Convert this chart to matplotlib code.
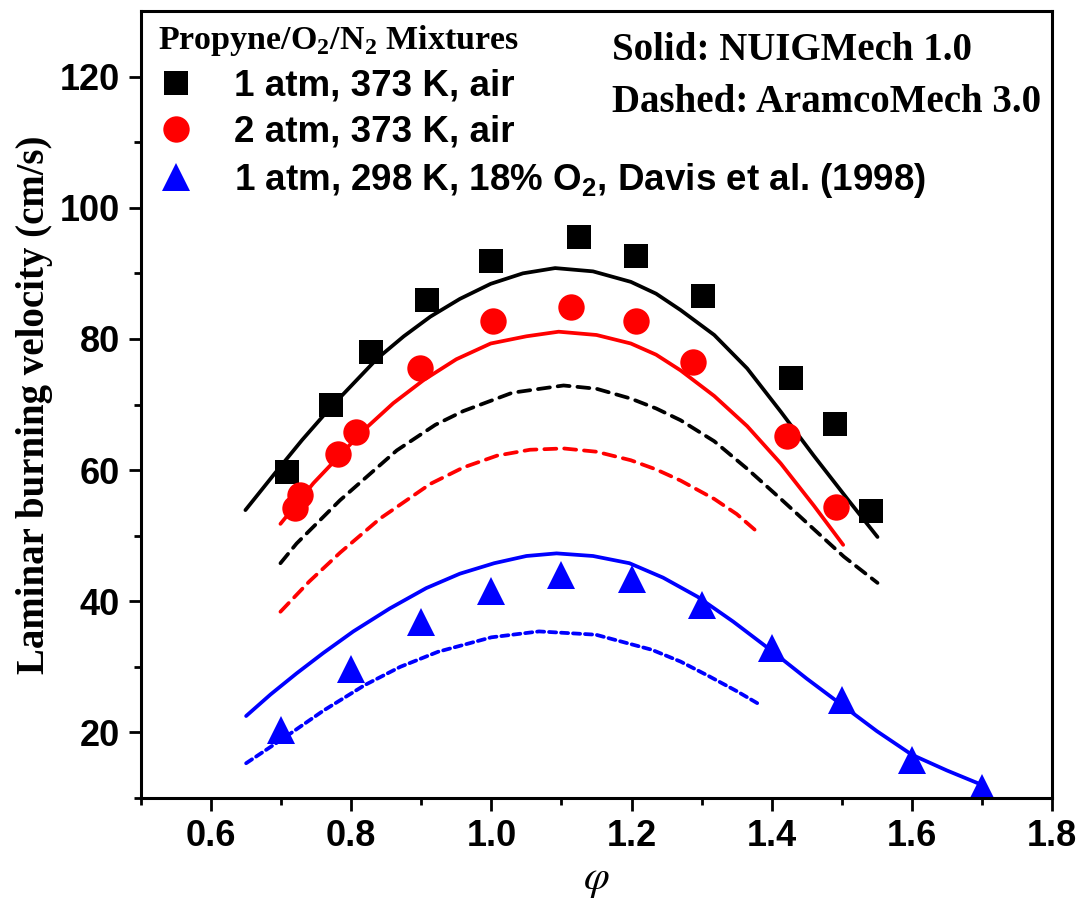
import matplotlib
matplotlib.use("Agg")
import matplotlib.pyplot as plt
from matplotlib.font_manager import FontProperties

plt.rcParams['mathtext.fontset'] = 'custom'
plt.rcParams['mathtext.rm'] = 'Liberation Sans:bold'
plt.rcParams['mathtext.sf'] = 'Liberation Serif:bold'

# ---------------- data ----------------
sq_x = [0.709, 0.771, 0.828, 0.908, 0.999, 1.125, 1.206, 1.302, 1.428, 1.491, 1.542]
sq_y = [59.7, 69.9, 78.0, 85.9, 91.9, 95.5, 92.6, 86.5, 74.1, 67.0, 53.8]

ci_x = [0.720, 0.727, 0.781, 0.807, 0.898, 1.003, 1.113, 1.207, 1.287, 1.422, 1.492]
ci_y = [54.2, 56.2, 62.4, 65.8, 75.6, 82.7, 84.9, 82.7, 76.5, 65.2, 54.4]

tr_x = [0.70, 0.80, 0.90, 1.00, 1.10, 1.20, 1.30, 1.40, 1.50, 1.60, 1.70]
tr_y = [20.3, 29.7, 36.8, 41.6, 44.0, 43.4, 39.4, 32.8, 24.9, 15.8, 11.6]

bs_x = [0.649, 0.691, 0.730, 0.771, 0.837, 0.875, 0.913, 0.955, 0.999, 1.045, 1.091,
        1.145, 1.199, 1.235, 1.270, 1.318, 1.365, 1.413, 1.460, 1.508, 1.551]
bs_y = [53.9, 59.5, 64.6, 69.6, 77.0, 80.4, 83.4, 86.1, 88.4, 90.0, 90.8,
        90.3, 88.7, 86.9, 84.4, 80.6, 75.5, 68.9, 62.2, 55.6, 49.8]

rs_x = [0.699, 0.746, 0.818, 0.860, 0.903, 0.950, 0.999, 1.050, 1.096, 1.150, 1.199,
        1.235, 1.270, 1.318, 1.365, 1.413, 1.460, 1.502]
rs_y = [51.8, 58.0, 66.1, 70.2, 73.7, 76.9, 79.3, 80.4, 81.1, 80.6, 79.3,
        77.6, 75.2, 71.3, 66.7, 61.0, 54.6, 48.6]

bd_x = [0.699, 0.722, 0.784, 0.865, 0.920, 0.960, 1.030, 1.103, 1.150, 1.199, 1.235,
        1.270, 1.318, 1.365, 1.413, 1.460, 1.503, 1.551]
bd_y = [45.8, 48.8, 55.4, 63.0, 66.9, 69.0, 71.8, 72.9, 72.4, 70.9, 69.4,
        67.6, 64.4, 60.2, 55.6, 51.0, 46.8, 42.8]

rd_x = [0.699, 0.740, 0.784, 0.841, 0.913, 0.960, 1.008, 1.055, 1.103, 1.150, 1.199,
        1.235, 1.270, 1.318, 1.350, 1.377]
rd_y = [38.4, 43.0, 47.4, 52.6, 57.9, 60.4, 62.2, 63.1, 63.3, 62.8, 61.5,
        60.1, 58.4, 55.6, 53.3, 50.8]

us_x = [0.650, 0.685, 0.722, 0.760, 0.803, 0.855, 0.907, 0.955, 1.004, 1.050, 1.093,
        1.145, 1.197, 1.245, 1.294, 1.345, 1.398, 1.450, 1.500, 1.550, 1.600, 1.650, 1.700]
us_y = [22.5, 25.8, 29.0, 32.1, 35.4, 38.9, 42.0, 44.2, 45.8, 46.9, 47.3,
        46.9, 45.8, 43.6, 40.7, 36.9, 32.6, 28.2, 24.2, 20.2, 16.6, 14.2, 12.0]

ud_x = [0.650, 0.706, 0.760, 0.819, 0.870, 0.924, 1.000, 1.068, 1.149, 1.229, 1.270,
        1.310, 1.350, 1.382]
ud_y = [15.3, 19.3, 23.3, 27.2, 30.0, 32.3, 34.5, 35.4, 34.9, 32.6, 30.8,
        28.6, 26.3, 24.3]

labels = ['1 atm, 373 K, air', '2 atm, 373 K, air',
          r'1 atm, 298 K, 18% O$_\mathrm{2}$, Davis et al. (1998)']
legend_title = r'Propyne/O$_\mathsf{2}$/N$_\mathsf{2}$ Mixtures'
xticks = [0.6, 0.8, 1.0, 1.2, 1.4, 1.6, 1.8]
yticks = [20, 40, 60, 80, 100, 120]

# ---------------- figure ----------------
W, H = 1085, 910
fig = plt.figure(figsize=(W / 100, H / 100), dpi=100)
L, R, T, B = 141, 1052, 11, 798
ax = fig.add_axes([L / W, 1 - B / H, (R - L) / W, (B - T) / H])

lw = 2.7
ax.plot(bs_x, bs_y, color='black', lw=lw, solid_capstyle='round')
ax.plot(rs_x, rs_y, color='#ff0000', lw=lw, solid_capstyle='round')
ax.plot(us_x, us_y, color='#0000ff', lw=lw, solid_capstyle='round')
ax.plot(bd_x, bd_y, color='black', lw=lw, dashes=(3.2, 2.1), dash_capstyle='round')
ax.plot(rd_x, rd_y, color='#ff0000', lw=lw, dashes=(3.2, 2.1), dash_capstyle='round')
ax.plot(ud_x, ud_y, color='#0000ff', lw=lw, dashes=(1.9, 1.3), dash_capstyle='round')

h1, = ax.plot(sq_x, sq_y, 's', color='black', ms=17, mew=0, label=labels[0])
h2, = ax.plot(ci_x, ci_y, 'o', color='#ff0000', ms=19, mew=0, label=labels[1])
h3, = ax.plot(tr_x, tr_y, '^', color='#0000ff', ms=20, mew=0, label=labels[2])

ax.set_xlim(0.5, 1.8)
ax.set_ylim(10, 130)
ax.set_xticks(xticks)
ax.set_xticks([0.5 + 0.1 * i for i in range(14)], minor=True)
ax.set_yticks(yticks)
ax.set_yticks([10 + 10 * i for i in range(12)], minor=True)
ax.set_xticklabels(['%.1f' % v for v in xticks])
ax.set_yticklabels([str(v) for v in yticks])

tick_font = FontProperties(family='Liberation Sans', weight='bold', size=26)
for lab in ax.get_xticklabels() + ax.get_yticklabels():
    lab.set_fontproperties(tick_font)

ax.tick_params(which='major', direction='out', length=9, width=2, pad=6,
               top=False, right=False)
ax.tick_params(which='minor', direction='out', length=5, width=2,
               top=False, right=False)
for s in ax.spines.values():
    s.set_linewidth(2.2)

ax.set_ylabel('Laminar burning velocity (cm/s)', fontfamily='Liberation Serif',
              fontweight='bold', fontsize=28, labelpad=5)
ax.set_xlabel('φ', fontfamily='STIXGeneral', fontstyle='italic', fontsize=30,
              labelpad=4)

leg = ax.legend(handles=[h1, h2, h3], loc='upper left',
                bbox_to_anchor=(0.013, 0.992), frameon=False,
                title=legend_title,
                title_fontproperties=FontProperties(family='Liberation Serif',
                                                    weight='bold', size=24.5),
                prop=FontProperties(family='Liberation Sans', weight='bold', size=26.5),
                alignment='left', numpoints=1, handlelength=0.95,
                handletextpad=1.1, labelspacing=0.3, borderpad=0.15,
                borderaxespad=0)

ax.text((612 - L) / (R - L), (B - 50) / (B - T), 'Solid: NUIGMech 1.0',
        transform=ax.transAxes, fontfamily='Liberation Serif', fontweight='bold',
        fontsize=28, va='center', ha='left')
ax.text((612 - L) / (R - L), (B - 102) / (B - T), 'Dashed: AramcoMech 3.0',
        transform=ax.transAxes, fontfamily='Liberation Serif', fontweight='bold',
        fontsize=28, va='center', ha='left')

fig.savefig('out.png', dpi=100)
